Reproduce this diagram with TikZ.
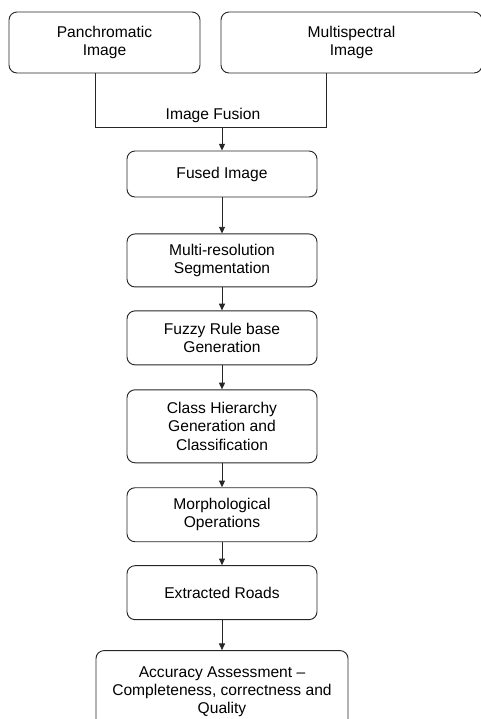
\documentclass[tikz,border=0pt]{standalone}
\usepackage{fontspec}
\setmainfont{Liberation Sans}
\usetikzlibrary{arrows.meta,positioning}

\begin{document}
\begin{tikzpicture}[
  x=0.75pt,y=-0.75pt,
  stage/.style={rectangle,rounded corners=6pt,draw=black!85,line width=0.7pt,
                minimum width=142.5pt,minimum height=40.5pt,align=center,
                font=\fontsize{11.7pt}{13.6pt}\selectfont,inner sep=2pt},
  srcbox/.style={stage,minimum height=45.75pt},
  arr/.style={-{Triangle[length=5pt,width=4.5pt]},line width=0.7pt,black!85},
  lnk/.style={line width=0.7pt,black!85}
]
\useasboundingbox (0,0) rectangle (481,719);
\clip (0,0) rectangle (481,719);
\node[srcbox,minimum width=143.25pt] (pan)   at (104.5,42.5) {Panchromatic\\Image};
\node[srcbox,minimum width=195.75pt] (multi) at (351.5,42.5) {Multispectral\\Image};
\coordinate (fuseL) at (95,127);
\coordinate (fuseR) at (326,127);
\node[stage,minimum height=34.5pt] (fused) at (222,174) {Fused Image};
\node[stage,minimum height=39.75pt,below=27pt of fused] (seg)   {Multi-resolution\\Segmentation};
\node[stage,below=17.25pt of seg]                       (fuzzy) {Fuzzy Rule base\\Generation};
\node[stage,minimum height=54.75pt,below=18pt of fuzzy] (cls)   {Class Hierarchy\\Generation and\\Classification};
\node[stage,below=18pt of cls]                          (morph) {Morphological\\Operations};
\node[stage,below=17.25pt of morph]                     (roads) {Extracted Roads};
\node[stage,minimum width=189pt,minimum height=61.5pt,below=22.5pt of roads]
  (acc) {Accuracy Assessment --\\Completeness, correctness and\\Quality};
% fusion junction
\draw[lnk] (pan.south -| fuseL) -- (fuseL) -- (fuseR) -- (multi.south -| fuseR);
\node[font=\fontsize{11.7pt}{13.6pt}\selectfont] (fuselbl) at (213,115) {Image Fusion};
\draw[arr] (fuseL -| fused.north) -- (fused.north);
\draw[arr] (fused) -- (seg);
\draw[arr] (seg) -- (fuzzy);
\draw[arr] (fuzzy) -- (cls);
\draw[arr] (cls) -- (morph);
\draw[arr] (morph) -- (roads);
\draw[arr] (roads) -- (acc);
\end{tikzpicture}
\end{document}
